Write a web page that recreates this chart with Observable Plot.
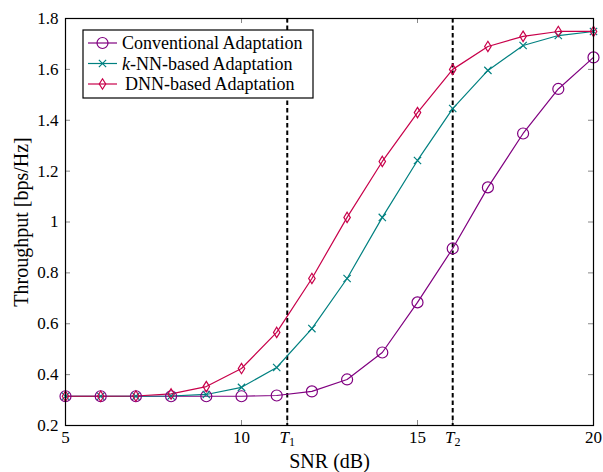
<!DOCTYPE html>
<html><head><meta charset="utf-8">
<script src="https://cdn.jsdelivr.net/npm/d3@7"></script>
<script src="https://cdn.jsdelivr.net/npm/@observablehq/plot@0.6"></script>
<style>body{margin:0;background:#fff;} #chart{width:603px;height:472px;}</style>
</head><body><div id="chart"></div>
<script>
const snr = [5, 6, 7, 8, 9, 10, 11, 12, 13, 14, 15, 16, 17, 18, 19, 20];
const conventional = [0.315, 0.315, 0.315, 0.315, 0.315, 0.315, 0.318, 0.334, 0.381, 0.487, 0.684, 0.896, 1.136, 1.348, 1.523, 1.647];
const knn = [0.315, 0.315, 0.315, 0.316, 0.322, 0.350, 0.428, 0.581, 0.778, 1.018, 1.242, 1.446, 1.596, 1.694, 1.733, 1.749];
const dnn = [0.315, 0.315, 0.316, 0.324, 0.353, 0.424, 0.566, 0.778, 1.018, 1.238, 1.430, 1.600, 1.690, 1.730, 1.749, 1.749];
const seriesNames = ["Conventional Adaptation", "k-NN-based Adaptation", "DNN-based Adaptation"];
const seriesColors = ["#800080", "#008080", "#c8004a"];
const thresholds = [11.3, 16];
const thresholdLabels = ["T1", "T2"];
const xTicks = [5, 10, 15, 20];
const yTicks = [0.2, 0.4, 0.6, 0.8, 1.0, 1.2, 1.4, 1.6, 1.8];
const xLabel = "SNR (dB)";
const yLabel = "Throughput [bps/Hz]";

const W = 603, H = 472, mL = 65, mR = 10, mT = 18, mB = 47;
const PW = W - mL - mR, PH = H - mT - mB;

const values = [conventional, knn, dnn];
const rows = [];
seriesNames.forEach((s, k) => snr.forEach((x, i) => rows.push({snr: x, value: values[k][i], series: s})));

const diamond = {draw(ctx, size) { const r = Math.sqrt(size / Math.PI); ctx.moveTo(0, -r); ctx.lineTo(r * 0.62, 0); ctx.lineTo(0, r); ctx.lineTo(-r * 0.62, 0); ctx.closePath(); }};
const symbols = {[seriesNames[0]]: "circle", [seriesNames[1]]: "times", [seriesNames[2]]: diamond};
const radii = {[seriesNames[0]]: 5.5, [seriesNames[1]]: 3.4, [seriesNames[2]]: 5.2};

const allXTicks = xTicks.concat(thresholds);
const fmtX = d => { const j = thresholds.indexOf(d); return j >= 0 ? thresholdLabels[j] : String(d); };
const fmtY = d => d === 1 ? "1" : d.toFixed(1);
const FONT = "'Liberation Serif', serif";

const plot = Plot.plot({
  width: W, height: H,
  marginLeft: mL, marginRight: mR, marginTop: mT, marginBottom: mB,
  style: {fontFamily: FONT, fontSize: "17px", background: "white", color: "black"},
  x: {domain: [5, 20]},
  y: {domain: [0.2, 1.8]},
  color: {domain: seriesNames, range: seriesColors},
  marks: [
    Plot.ruleX(allXTicks, {x: d => d, insetTop: PH - 5, stroke: "#888", strokeWidth: 1}),
    Plot.ruleX(allXTicks, {x: d => d, insetBottom: PH - 5, stroke: "#888", strokeWidth: 1}),
    Plot.ruleY(yTicks, {y: d => d, insetRight: PW - 5, stroke: "#888", strokeWidth: 1}),
    Plot.ruleY(yTicks, {y: d => d, insetLeft: PW - 5, stroke: "#888", strokeWidth: 1}),
    Plot.ruleX(thresholds, {x: d => d, stroke: "black", strokeWidth: 2, strokeDasharray: "4.5,3"}),
    Plot.line(rows, {x: "snr", y: "value", z: "series", stroke: "series", strokeWidth: 1.2}),
    ...seriesNames.map(s => Plot.dot(rows.filter(r => r.series === s), {x: "snr", y: "value", stroke: "series", fill: "white", fillOpacity: 0, symbol: () => symbols[s], r: radii[s], strokeWidth: 1.2})),
    Plot.frame({stroke: "black", strokeWidth: 1.2}),
    Plot.axisX(allXTicks, {tickSize: 0, tickPadding: 5, tickFormat: fmtX, fontSize: 17, label: null}),
    Plot.axisY(yTicks, {tickSize: 0, tickPadding: 7, tickFormat: fmtY, fontSize: 17, label: null}),
    Plot.axisX({tickSize: 0, ticks: [], label: xLabel, labelAnchor: "center", labelOffset: 42, labelArrow: "none", fontSize: 20}),
    Plot.axisY({tickSize: 0, ticks: [], label: yLabel, labelAnchor: "center", labelOffset: 52, labelArrow: "none", fontSize: 20})
  ]
});
document.getElementById("chart").appendChild(plot);

// subscripts for threshold labels
const svg = d3.select(plot);
svg.selectAll("text").each(function() {
  const t = d3.select(this);
  const txt = this.textContent;
  const j = thresholdLabels.indexOf(txt);
  if (j >= 0 && this.children.length === 0) {
    t.text(null);
    t.append("tspan").attr("font-style", "italic").text(txt[0]);
    t.append("tspan").attr("font-size", 12).attr("dy", "0.3em").text(txt.slice(1));
  }
});

// legend
const lg = svg.append("g").attr("font-family", FONT).attr("font-size", 18).attr("text-anchor", "start");
const lx = 83, ly = 30, lw = 230, lh = 68;
lg.append("rect").attr("x", lx).attr("y", ly).attr("width", lw).attr("height", lh).attr("fill", "white").attr("stroke", "black").attr("stroke-width", 1.2);
seriesNames.forEach((s, k) => {
  const cy = ly + 13 + k * 20.5;
  const c = seriesColors[k];
  lg.append("line").attr("x1", lx + 5).attr("x2", lx + 34).attr("y1", cy).attr("y2", cy).attr("stroke", c).attr("stroke-width", 1.2);
  const sym = k === 0 ? d3.symbol(d3.symbolCircle, Math.PI * 5.5 * 5.5) : k === 1 ? d3.symbol(d3.symbolTimes, Math.PI * 3.4 * 3.4) : d3.symbol(diamond, Math.PI * 5.2 * 5.2);
  lg.append("path").attr("d", sym()).attr("transform", `translate(${lx + 19.5},${cy})`).attr("fill", "none").attr("stroke", c).attr("stroke-width", 1.2);
  const tx = lg.append("text").attr("x", lx + (k === 2 ? 42 : 39)).attr("y", cy).attr("dy", "0.35em");
  if (s.startsWith("k-")) {
    tx.append("tspan").attr("font-style", "italic").text("k");
    tx.append("tspan").text(s.slice(1));
  } else tx.text(s);
});
</script>
</body></html>
